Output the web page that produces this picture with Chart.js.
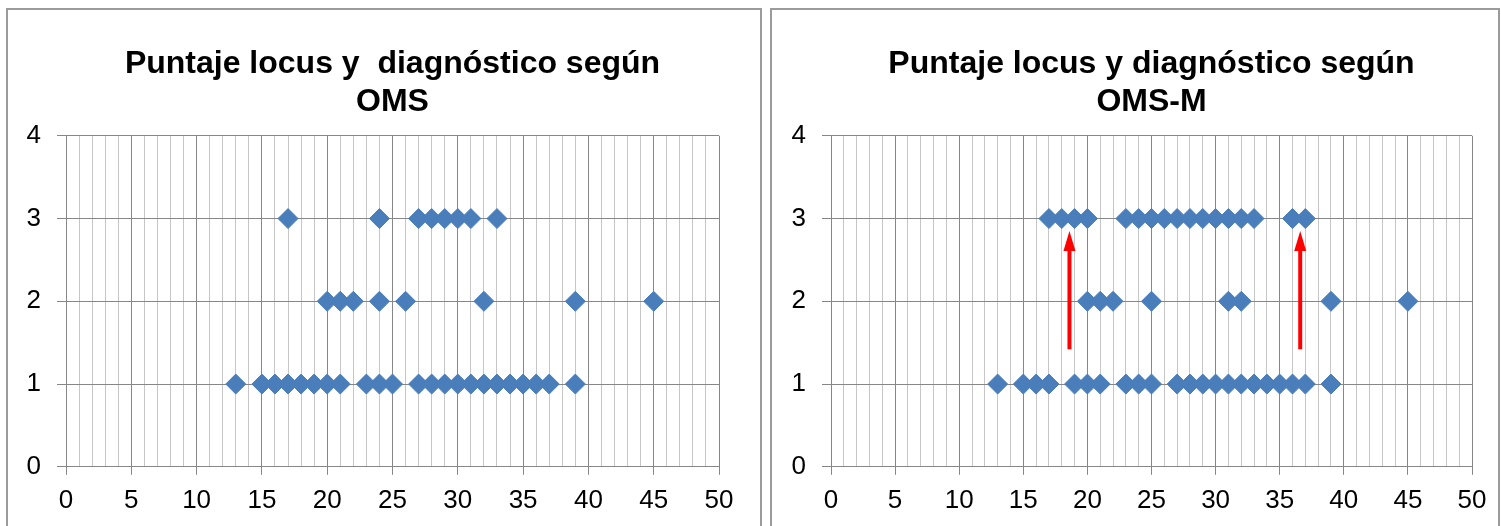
<!DOCTYPE html>
<html>
<head>
<meta charset="utf-8">
<script src="https://cdn.jsdelivr.net/npm/chart.js@4"></script>
<style>
body{margin:0;background:#fff;width:1501px;height:526px;overflow:hidden;position:relative}
.box{position:absolute;top:8px;height:560px;border:2px solid #9b9b9b;background:#fff}
#b1{left:6px;width:752px}
#b2{left:770px;width:726px}
canvas{position:absolute;left:0;top:0}
</style>
</head>
<body>
<div class="box" id="b1"><canvas id="c1" width="752" height="516"></canvas></div>
<div class="box" id="b2"><canvas id="c2" width="726" height="516"></canvas></div>
<script>
// puntaje locus (x) de cada caso, agrupado por diagnóstico (y = 1, 2, 3)
const omsDiag1 = [13, 15, 16, 17, 18, 19, 20, 21, 23, 24, 25, 27, 28, 29, 30, 31, 32, 33, 34, 35, 36, 37, 39];
const omsDiag2 = [20, 21, 22, 24, 26, 32, 39, 45];
const omsDiag3 = [17, 24, 27, 28, 29, 30, 31, 33];

const omsmDiag1 = [13, 15, 16, 17, 19, 20, 21, 23, 24, 25, 27, 28, 29, 30, 31, 32, 33, 34, 35, 36, 37, 39];
const omsmDiag2 = [20, 21, 22, 25, 31, 32, 39, 45];
const omsmDiag3 = [17, 18, 19, 20, 23, 24, 25, 26, 27, 28, 29, 30, 31, 32, 33, 36, 37];

// flechas rojas del segundo gráfico (x, desde y, hasta y)
const arrowX = [18.6, 36.6];
const arrowFrom = 1.42;
const arrowTo = 2.85;

const titleOms = ['Puntaje locus y  diagnóstico según', 'OMS'];
const titleOmsm = ['Puntaje locus y diagnóstico según', 'OMS-M'];

const dark = '#878787';
const light = '#c6c6c6';
const blue = '#4a7ebb';

Chart.defaults.font.family = '"Liberation Sans", Arial, sans-serif';
Chart.defaults.color = '#000';

const arrows = {
  id: 'arrows',
  afterDatasetsDraw(chart, args, opts) {
    if (!opts.xs) return;
    const {ctx, scales: {x, y}} = chart;
    ctx.save();
    ctx.strokeStyle = ctx.fillStyle = '#ff0000';
    ctx.lineWidth = 4;
    opts.xs.forEach(v => {
      const px = x.getPixelForValue(v);
      const y0 = y.getPixelForValue(opts.from);
      const y1 = y.getPixelForValue(opts.to);
      ctx.beginPath();
      ctx.moveTo(px, y0);
      ctx.lineTo(px, y1 + 14);
      ctx.stroke();
      ctx.beginPath();
      ctx.moveTo(px, y1);
      ctx.lineTo(px - 6, y1 + 20);
      ctx.lineTo(px + 6, y1 + 20);
      ctx.closePath();
      ctx.fill();
    });
    ctx.restore();
  }
};

function toPoints(rows) {
  return rows.flatMap((xs, i) => xs.map(v => ({x: v, y: i + 1})));
}

function makeChart(id, title, rows, pad, yWidth, arrowOpts) {
  return new Chart(document.getElementById(id), {
    type: 'scatter',
    data: {
      datasets: [{
        data: toPoints(rows),
        pointStyle: 'rectRot',
        pointRadius: 10,
        pointBackgroundColor: blue,
        pointBorderColor: blue,
        pointBorderWidth: 1
      }]
    },
    options: {
      responsive: false,
      animation: false,
      layout: {padding: pad},
      plugins: {
        legend: {display: false},
        tooltip: {enabled: false},
        title: {
          display: true,
          text: title,
          fullSize: false,
          color: '#000',
          font: {size: 32, weight: 'bold', lineHeight: 1.2},
          padding: {top: 35, bottom: 14}
        },
        arrows: arrowOpts
      },
      scales: {
        x: {
          type: 'linear',
          min: 0,
          max: 50,
          ticks: {
            stepSize: 1,
            autoSkip: false,
            maxRotation: 0,
            padding: 10,
            font: {size: 26},
            callback: v => v % 5 === 0 ? v : ''
          },
          grid: {
            color: c => c.tick && c.tick.value % 5 === 0 ? dark : light,
            tickColor: c => c.tick && c.tick.value % 5 === 0 ? dark : 'rgba(0,0,0,0)',
            tickLength: 8
          },
          border: {color: dark}
        },
        y: {
          min: 0,
          max: 4,
          afterFit: s => { s.width = yWidth; },
          ticks: {stepSize: 1, padding: 16, font: {size: 26}},
          grid: {color: dark, tickColor: dark, tickLength: 9},
          border: {color: dark}
        }
      }
    },
    plugins: [arrows]
  });
}

makeChart('c1', titleOms, [omsDiag1, omsDiag2, omsDiag3],
  {left: 18, right: 41, top: 0, bottom: 0}, 40, {});
makeChart('c2', titleOmsm, [omsmDiag1, omsmDiag2, omsmDiag3],
  {left: 16, right: 26, top: 0, bottom: 0}, 43, {xs: arrowX, from: arrowFrom, to: arrowTo});
</script>
</body>
</html>
